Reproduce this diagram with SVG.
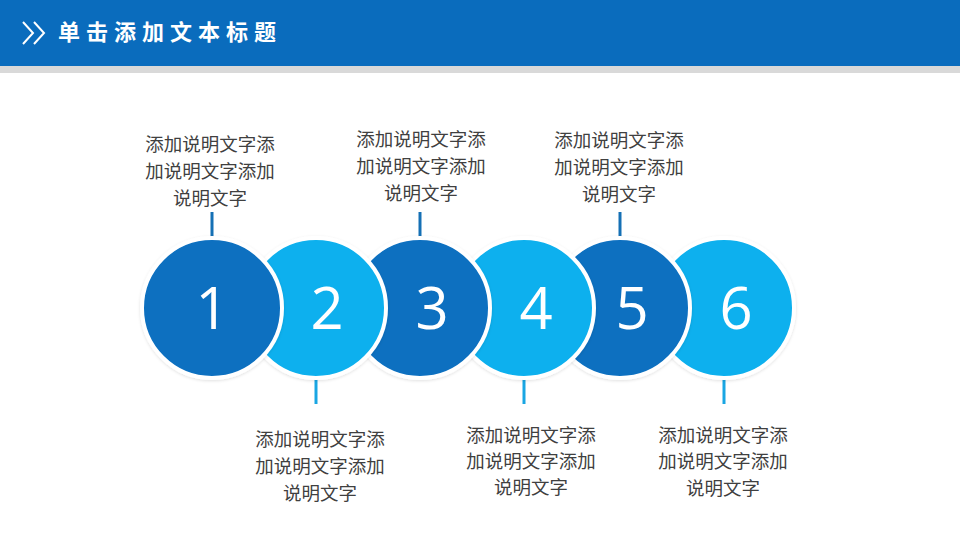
<svg xmlns="http://www.w3.org/2000/svg" width="960" height="540" viewBox="0 0 960 540">
<defs>
<style>
.dk{fill:#0a6fc0}
.lt{fill:#0bb0ee}
.c{stroke:#fff;stroke-width:4}
.num{font-family:"Open Sans","Noto Sans","DejaVu Sans",sans-serif;font-size:58px;font-weight:400;fill:#fff;text-anchor:middle}
.desc{font-family:"Noto Sans CJK SC","Noto Sans",sans-serif;font-size:18.5px;fill:#404040;text-anchor:middle}
.ldk{stroke:#1570b5;stroke-width:3}
.llt{stroke:#19a6e3;stroke-width:3}
</style>
<filter id="sh" x="-20%" y="-20%" width="140%" height="140%">
<feDropShadow dx="0" dy="1" stdDeviation="1.5" flood-color="#000" flood-opacity="0.12"/>
</filter>
</defs>
<rect width="960" height="540" fill="#fff"/>
<g id="header">
<rect x="0" y="0" width="960" height="66" fill="#0a6cbd"/>
<rect x="0" y="66" width="960" height="7" fill="#d9d9d9"/>
<polyline points="23,22 33,33 23,44" fill="none" stroke="#fff" stroke-width="2"/>
<polyline points="34,22 44,33 34,44" fill="none" stroke="#fff" stroke-width="2"/>
<text x="58" y="40" font-family="'Noto Sans CJK SC',sans-serif" font-size="22" font-weight="bold" fill="#fff" letter-spacing="6">单击添加文本标题</text>
</g>
<g id="connectors">
<line class="ldk" x1="212" y1="212" x2="212" y2="242"/>
<line class="llt" x1="316" y1="374" x2="316" y2="404"/>
<line class="ldk" x1="420" y1="212" x2="420" y2="242"/>
<line class="llt" x1="524" y1="374" x2="524" y2="404"/>
<line class="ldk" x1="620" y1="212" x2="620" y2="242"/>
<line class="llt" x1="724" y1="374" x2="724" y2="404"/>
</g>
<g id="node6"><circle class="lt c" cx="724" cy="308" r="70" filter="url(#sh)"/><text class="num" x="736" y="329">6</text></g>
<g id="node5"><circle class="dk c" cx="620" cy="308" r="70" filter="url(#sh)"/><text class="num" x="632" y="329">5</text></g>
<g id="node4"><circle class="lt c" cx="524" cy="308" r="70" filter="url(#sh)"/><text class="num" x="536" y="329">4</text></g>
<g id="node3"><circle class="dk c" cx="420" cy="308" r="70" filter="url(#sh)"/><text class="num" x="432" y="329">3</text></g>
<g id="node2"><circle class="lt c" cx="316" cy="308" r="70" filter="url(#sh)"/><text class="num" x="327" y="329">2</text></g>
<g id="node1"><circle class="dk c" cx="212" cy="308" r="70" filter="url(#sh)"/><text class="num" x="212" y="329">1</text></g>
<g id="text1"><text class="desc" x="210" y="151">添加说明文字添</text><text class="desc" x="210" y="178">加说明文字添加</text><text class="desc" x="210" y="205">说明文字</text></g>
<g id="text3"><text class="desc" x="421" y="146">添加说明文字添</text><text class="desc" x="421" y="173">加说明文字添加</text><text class="desc" x="421" y="200">说明文字</text></g>
<g id="text5"><text class="desc" x="619" y="147">添加说明文字添</text><text class="desc" x="619" y="174">加说明文字添加</text><text class="desc" x="619" y="201">说明文字</text></g>
<g id="text2"><text class="desc" x="320" y="446">添加说明文字添</text><text class="desc" x="320" y="473">加说明文字添加</text><text class="desc" x="320" y="500">说明文字</text></g>
<g id="text4"><text class="desc" x="531" y="442">添加说明文字添</text><text class="desc" x="531" y="468">加说明文字添加</text><text class="desc" x="531" y="494">说明文字</text></g>
<g id="text6"><text class="desc" x="723" y="442">添加说明文字添</text><text class="desc" x="723" y="468">加说明文字添加</text><text class="desc" x="723" y="495">说明文字</text></g>
</svg>
